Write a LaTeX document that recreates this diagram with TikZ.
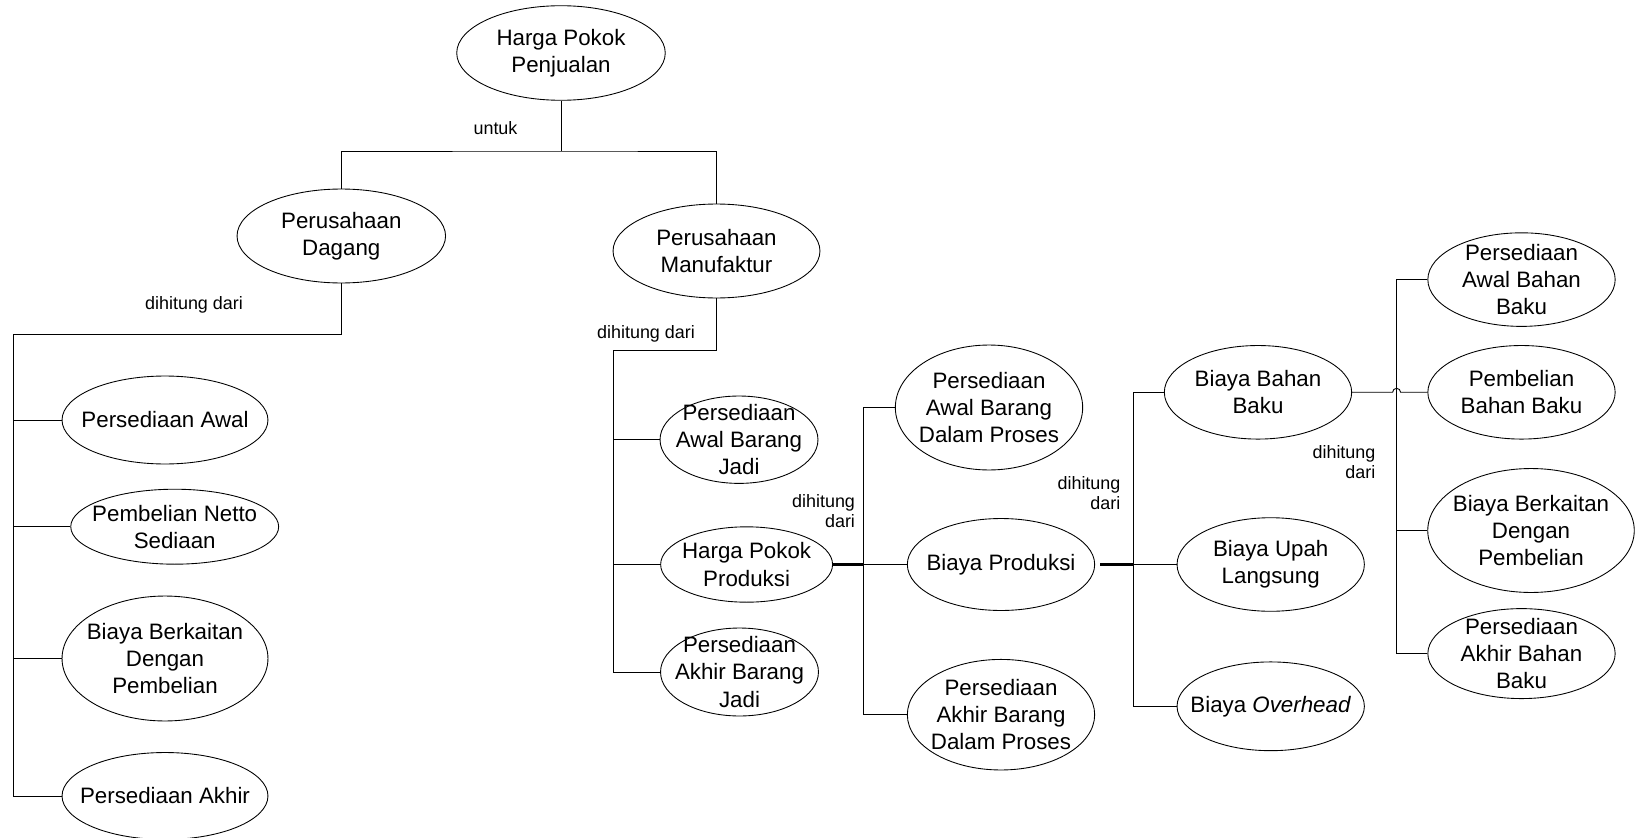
\documentclass[tikz,border=0pt]{standalone}
\usepackage{fontspec}
\setmainfont{Liberation Sans}
\usetikzlibrary{
  calc,
  shapes
}
\tikzset{>=latex}
\newcommand{\ovalfont}{\fontsize{12.7}{15.4}\selectfont}
\newcommand{\labfont}{\fontsize{10.2}{11.7}\selectfont}

\begin{document}
\begin{tikzpicture}[x=0.02cm, y=-0.02cm, line width=0.5pt,
    oval/.style 2 args={ellipse, draw, inner sep=-2cm, align=center, font=\ovalfont,
      minimum width=#1*0.04cm, minimum height=#2*0.04cm},
    lab/.style={font=\labfont, inner sep=0pt, align=right},
    heavy/.style={line width=1.2pt}]
      \useasboundingbox (0,0) rectangle (1636,838);

      % top
      \node[oval={104.3}{47.3}] (hpj) at (561,53) {Harga Pokok\\Penjualan};
      \node[oval={104.3}{47}] (dagang) at (341.3,236) {Perusahaan\\Dagang};
      \node[oval={103.5}{47}] (manuf) at (716.5,251) {Perusahaan\\Manufaktur};

      % dagang
      \node[oval={103}{44}] (pawal) at (165,420) {Persediaan Awal};
      \node[oval={104}{37.5}] (pnetto) at (174.7,526.7) {Pembelian Netto\\Sediaan};
      \node[oval={103}{62.5}] (bbeli) at (165,658.5) {Biaya Berkaitan\\Dengan\\Pembelian};
      \node[oval={103}{43.5}] (pakhir) at (165,796) {Persediaan Akhir};

      % manufaktur
      \node[oval={79}{43.7}] (pabj) at (739,439.7) {Persediaan\\Awal Barang\\Jadi};
      \node[oval={86}{37.7}] (hpp) at (746.6,564.5) {Harga Pokok\\Produksi};
      \node[oval={79}{44}] (pakbj) at (739.5,672) {Persediaan\\Akhir Barang\\Jadi};

      % harga pokok produksi
      \node[oval={93.7}{62.5}] (pabdp) at (989,407.5) {Persediaan\\Awal Barang\\Dalam Proses};
      \node[oval={93.7}{46}] (bprod) at (1001,564.5) {Biaya Produksi};
      \node[oval={93.7}{55.3}] (pakbdp) at (1001,714.7) {Persediaan\\Akhir Barang\\Dalam Proses};

      % biaya produksi
      \node[oval={93.7}{46.8}] (bbb) at (1258,392.3) {Biaya Bahan\\Baku};
      \node[oval={93.7}{46.8}] (bul) at (1270.7,564.5) {Biaya Upah\\Langsung};
      \node[oval={93.7}{44.4}] (bov) at (1270.7,706.3) {Biaya \textit{Overhead}};

      % biaya bahan baku
      \node[oval={93.7}{46.8}] (pabb) at (1521.5,279.6) {Persediaan\\Awal Bahan\\Baku};
      \node[oval={93.7}{46.8}] (pbb) at (1521.5,392.3) {Pembelian\\Bahan Baku};
      \node[oval={103.3}{62}] (bbp) at (1531,530.5) {Biaya Berkaitan\\Dengan\\Pembelian};
      \node[oval={93.7}{45}] (pakbb) at (1521.5,653.6) {Persediaan\\Akhir Bahan\\Baku};

      % junctions
      \coordinate (jtop) at (561,151);
      \coordinate (jdag) at (13,334);
      \coordinate (jman) at (613,350);
      \coordinate (jhpp) at (863.7,0);
      \coordinate (jbp) at (1133.3,0);
      \coordinate (jbb) at (1396.6,0);

      % untuk
      \draw (hpj) -- (jtop);
      \draw (dagang.north) |- (jtop) -| (manuf.north);
      \node[lab] (untuk) at (495.5,128) {untuk};

      % dagang lines
      \draw (dagang.south) |- (jdag) |- (pakhir.west);
      \foreach \n in {pawal, pnetto, bbeli}
        \draw (\n.west) -- (\n.west -| jdag);
      \node[lab] (dhdag) at (194,305) {dihitung dari};

      % manufaktur lines
      \draw (manuf.south) |- (jman) |- (pakbj.west);
      \foreach \n in {pabj, hpp}
        \draw (\n.west) -- (\n.west -| jman);
      \node[lab] (dhman) at (646,334) {dihitung dari};

      % harga pokok produksi lines
      \draw (pabdp.west) -- (pabdp.west -| jhpp) |- (pakbdp.west);
      \draw[heavy] (hpp.east) -- (hpp.east -| jhpp);
      \draw (hpp.east -| jhpp) -- (bprod.west);
      \node[lab, anchor=east] (dhhpp) at (855.4,511) {dihitung\\dari};

      % biaya produksi lines
      \draw (bbb.west) -- (bbb.west -| jbp) |- (bov.west);
      \draw[heavy, shorten <=3pt] (bprod.east) -- (bprod.east -| jbp);
      \draw (bprod.east -| jbp) -- (bul.west);
      \node[lab, anchor=east] (dhbp) at (1120.8,493) {dihitung\\dari};

      % biaya bahan baku lines
      \draw (pabb.west) -- (pabb.west -| jbb) |- (pakbb.west);
      \draw (bbp.west) -- (bbp.west -| jbb);
      \draw (bbb.east) -- ($(bbb.east -| jbb)+(-4,0)$) arc (180:0:0.08cm) -- (pbb.west);
      \node[lab, anchor=east] (dhbb) at (1375.8,462) {dihitung\\dari};
\end{tikzpicture}
\end{document}
